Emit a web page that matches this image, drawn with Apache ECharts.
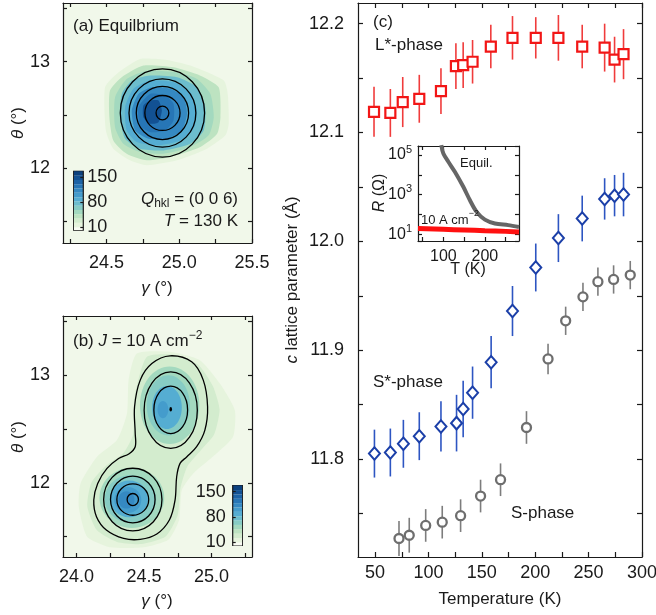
<!DOCTYPE html>
<html>
<head>
<meta charset="utf-8">
<script src="https://cdn.jsdelivr.net/npm/echarts@6/dist/echarts.min.js"></script>
<style>
  html, body { margin: 0; padding: 0; background: #fff; }
  #main { width: 656px; height: 615px; }
</style>
</head>
<body>
<div id="main"></div>
<script>
const FONT = 'Liberation Sans, Arial, Helvetica, sans-serif';
const INK = '#1a1a1a';

// colour scale shared by both maps (counts)
const cbEdges = [0, 10, 22, 34, 46, 58, 70, 82, 94, 106, 118, 130, 142, 154, 168];
const cbColors = ['#f9fcf4', '#e6f4dd', '#d3ecce', '#bde3c1', '#a3d9bf', '#87ccc4', '#6cbdcd',
  '#55add2', '#449ccc', '#3589c2', '#2776b6', '#1c63a6', '#125193', '#0b417e'];
const cbLabels = [10, 80, 150];

// (a) equilibrium: filled levels (outer -> inner) and fitted contours [g, t, rg, rt]
const aLevels = [16, 40, 52, 72, 90, 112, 126, 146];
const aBands = [
  [[24.730, 13.025], [24.914, 13.016], [25.076, 12.963], [25.306, 12.823], [25.333, 12.698], [25.340, 12.418], [25.317, 12.309], [25.191, 12.184], [24.984, 12.075], [24.776, 12.028], [24.661, 12.075], [24.546, 12.184], [24.495, 12.355], [24.489, 12.760], [24.569, 12.885]],
  [[24.753, 12.963], [24.961, 12.947], [25.145, 12.869], [25.271, 12.760], [25.283, 12.480], [25.260, 12.324], [25.145, 12.200], [24.937, 12.106], [24.776, 12.075], [24.638, 12.137], [24.546, 12.262], [24.519, 12.480], [24.523, 12.729], [24.604, 12.854]],
  [[24.776, 12.916], [24.984, 12.900], [25.122, 12.838], [25.214, 12.698], [25.237, 12.480], [25.202, 12.309], [25.076, 12.200], [24.891, 12.137], [24.730, 12.153], [24.615, 12.231], [24.558, 12.386], [24.558, 12.667], [24.638, 12.838]],
  [[24.788, 12.869], [24.984, 12.854], [25.122, 12.760], [25.179, 12.573], [25.168, 12.355], [25.076, 12.231], [24.891, 12.168], [24.730, 12.184], [24.627, 12.278], [24.592, 12.480], [24.604, 12.698], [24.673, 12.823]],
  [[24.799, 12.823], [24.961, 12.807], [25.076, 12.714], [25.122, 12.542], [25.099, 12.371], [25.007, 12.262], [24.845, 12.215], [24.707, 12.246], [24.638, 12.355], [24.627, 12.573], [24.684, 12.745]],
  [[24.811, 12.760], [24.937, 12.745], [25.030, 12.667], [25.053, 12.511], [25.018, 12.355], [24.914, 12.277], [24.788, 12.277], [24.696, 12.355], [24.673, 12.542], [24.719, 12.698]],
  [[24.799, 12.698], [24.903, 12.682], [24.960, 12.605], [24.960, 12.449], [24.903, 12.355], [24.799, 12.340], [24.730, 12.402], [24.719, 12.573]],
  [[24.799, 12.636], [24.857, 12.636], [24.880, 12.542], [24.857, 12.433], [24.799, 12.418], [24.753, 12.480], [24.753, 12.589]]
];
const aRings = [
  [24.884, 12.519, 0.044, 0.065], [24.884, 12.519, 0.121, 0.164], [24.884, 12.519, 0.180, 0.249],
  [24.884, 12.519, 0.230, 0.320], [24.884, 12.519, 0.290, 0.413]
];

// (b) J = 10 A/cm2: outer levels, lobe levels [g, t, rg, rt], contours
const bLevels = [16, 28];
const bBands = [
  [[24.447, 13.201], [24.693, 13.217], [24.914, 13.139], [25.062, 12.923], [25.173, 12.675], [25.160, 12.428], [25.037, 12.273], [24.865, 12.087], [24.780, 11.932], [24.760, 11.654], [24.680, 11.470], [24.497, 11.400], [24.251, 11.400], [24.079, 11.499], [24.017, 11.777], [24.030, 11.994], [24.152, 12.242], [24.300, 12.397], [24.374, 12.644], [24.386, 12.954]],
  [[24.52, 13.17], [24.72, 13.19], [24.90, 13.10], [25.01, 12.90], [25.06, 12.68], [25.02, 12.45], [24.92, 12.30], [24.82, 12.15], [24.77, 11.95], [24.75, 11.70], [24.66, 11.50], [24.48, 11.43], [24.30, 11.45], [24.15, 11.56], [24.08, 11.78], [24.11, 12.00], [24.22, 12.16], [24.35, 12.28], [24.42, 12.45], [24.43, 12.80]]
];
const bLobeLevels = [52, 64, 84, 98, 52, 64, 84, 98, 112];
const bLobes = [
  [24.69, 12.72, 0.22, 0.36], [24.68, 12.72, 0.16, 0.28], [24.67, 12.70, 0.11, 0.20], [24.64, 12.68, 0.04, 0.08],
  [24.41, 11.86, 0.24, 0.28], [24.40, 11.85, 0.19, 0.22], [24.39, 11.85, 0.14, 0.17], [24.38, 11.84, 0.10, 0.12],
  [24.37, 11.84, 0.06, 0.08]
];
const bRings = [
  [24.698, 12.677, 0.125, 0.221], [24.698, 12.675, 0.197, 0.356],
  [24.417, 11.844, 0.042, 0.056], [24.417, 11.844, 0.118, 0.146], [24.417, 11.844, 0.165, 0.217], [24.417, 11.844, 0.216, 0.291]
];
const bPeanut = [
  [24.693, 13.180], [24.853, 13.124], [24.939, 12.954], [24.971, 12.706], [24.951, 12.489], [24.890, 12.335],
  [24.816, 12.240], [24.767, 12.180], [24.742, 12.056], [24.730, 11.839], [24.688, 11.654], [24.595, 11.524],
  [24.472, 11.474], [24.349, 11.483], [24.221, 11.561], [24.148, 11.685], [24.128, 11.839], [24.157, 11.994],
  [24.226, 12.133], [24.312, 12.226], [24.390, 12.270], [24.435, 12.335], [24.435, 12.458], [24.430, 12.706],
  [24.472, 12.954], [24.558, 13.108]
];
const bDot = [[24.698, 12.684]];

// (c) c lattice parameter vs temperature
const lT = [49, 64.3, 75.9, 91.4, 111.7, 125.7, 132.5, 141.3, 158.4, 178.7, 200.5, 221.7, 244, 265, 274.3, 282.7];
const lC = [12.119, 12.118, 12.128, 12.131, 12.138, 12.161, 12.162, 12.165, 12.179, 12.187, 12.187, 12.187, 12.179, 12.178, 12.167, 12.172];
const lErr = [0.023, 0.022, 0.023, 0.022, 0.021, 0.021, 0.021, 0.020, 0.020, 0.020, 0.019, 0.021, 0.020, 0.022, 0.021, 0.023];
const ssT = [49.4, 64.3, 76.5, 91.4, 111.7, 126.3, 132.5, 141.3, 158.7, 178.7, 200.5, 221.7, 244, 265, 274.3, 282.7];
const ssC = [11.805, 11.806, 11.814, 11.821, 11.830, 11.833, 11.846, 11.861, 11.889, 11.936, 11.976, 12.003, 12.021, 12.039, 12.042, 12.043];
const ssErr = [0.022, 0.022, 0.022, 0.022, 0.023, 0.026, 0.026, 0.024, 0.024, 0.023, 0.022, 0.022, 0.021, 0.019, 0.019, 0.020];
const sT = [72.4, 82, 97.4, 112.9, 130.1, 148.8, 167.5, 191.8, 212, 228.5, 244.7, 258.7, 273.4, 289];
const sC = [11.727, 11.730, 11.739, 11.742, 11.748, 11.766, 11.781, 11.829, 11.892, 11.927, 11.949, 11.963, 11.965, 11.969];
const sErr = [0.016, 0.016, 0.015, 0.015, 0.015, 0.015, 0.015, 0.015, 0.014, 0.013, 0.013, 0.013, 0.013, 0.013];

// inset: resistance
const equilT = [95, 100, 112, 128, 148, 164, 180, 200, 224, 256, 282];
const equilR = [3.2e5, 1.2e5, 4.6e4, 1.4e4, 2.5e3, 520, 135, 55, 35, 29, 23.5];
const currT = [39, 100, 150, 200, 250, 282];
const currR = [19.5, 17.8, 16.5, 15.2, 14.0, 13.1];

const chart = echarts.init(document.getElementById('main'));

function levelColor(v) {
  for (let k = 0; k < cbColors.length; k++) {
    if (v < cbEdges[k + 1]) return cbColors[k];
  }
  return cbColors[cbColors.length - 1];
}

function axis(grid, pos, min, max, ticks, labels, o) {
  o = o || {};
  return {
    type: o.type || 'value', gridIndex: grid, position: pos, min: min, max: max, z: 10,
    axisLine: {show: o.line !== false, onZero: false, lineStyle: {color: INK, width: 1.2}},
    axisTick: {show: o.tick !== false, inside: true, length: o.len || 4, customValues: ticks, lineStyle: {color: INK, width: 1.2}},
    axisLabel: labels || o.fmt ? {
      show: true, customValues: labels || undefined, formatter: o.fmt, margin: o.margin,
      color: INK, fontFamily: FONT, fontSize: o.size || 18, lineHeight: 22,
      rich: {sup: {fontSize: 11, fontFamily: FONT, color: INK, verticalAlign: 'top', lineHeight: 9}}
    } : {show: false},
    splitLine: {show: false}
  };
}

const f1 = v => v.toFixed(1);
const f0 = v => String(Math.round(v));
const logFmt = v => {
  const e = Math.log10(v);
  const r = Math.round(e);
  if (Math.abs(e - r) > 1e-6 || r % 2 === 0) return '';
  return '10{sup|' + r + '}';
};

function polyFill(bands, levels) {
  return function (params, api) {
    const k = api.value(2);
    return {
      type: 'polygon',
      shape: {points: bands[k].map(p => api.coord(p)), smooth: 0.2},
      style: {fill: levelColor(levels[k])}
    };
  };
}

function ellipseItem(list, levels) {
  return function (params, api) {
    const r = list[api.value(2)];
    const c = api.coord([r[0], r[1]]);
    const s = api.size([r[2], r[3]]);
    const filled = !!levels;
    return {
      type: 'ellipse',
      shape: {cx: c[0], cy: c[1], rx: s[0], ry: s[1]},
      style: filled ? {fill: levelColor(levels[api.value(2)])} : {fill: 'none', stroke: '#000', lineWidth: 1.3}
    };
  };
}

function cbItem(params, api) {
  const k = api.value(2);
  const p0 = api.coord([0, cbEdges[k]]);
  const p1 = api.coord([1, cbEdges[k + 1]]);
  return {type: 'rect', shape: {x: p0[0], y: p1[1], width: p1[0] - p0[0], height: p0[1] - p1[1]}, style: {fill: cbColors[k]}};
}

function cbFrame(params, api) {
  const p0 = api.coord([0, cbEdges[0]]);
  const p1 = api.coord([1, cbEdges[cbEdges.length - 1]]);
  return {type: 'rect', shape: {x: p0[0], y: p1[1], width: p1[0] - p0[0], height: p0[1] - p1[1]}, style: {fill: 'none', stroke: INK, lineWidth: 1.2}};
}

function errItem(params, api) {
  const t = api.value(0), c = api.value(1), e = api.value(2);
  const a = api.coord([t, c - e]), b = api.coord([t, c + e]);
  return {type: 'line', shape: {x1: a[0], y1: a[1], x2: b[0], y2: b[1]}, style: {stroke: api.visual('color'), lineWidth: 1.6}};
}

const idx = arr => arr.map((p, k) => [p[0][0], p[0][1], k]);

function custom(xi, yi, data, render, z) {
  return {type: 'custom', xAxisIndex: xi, yAxisIndex: yi, clip: true, silent: true, z: z || 2,
    dimensions: ['x', 'y', 'k'], encode: {x: 0, y: 1}, data: data, renderItem: render};
}

const series = [
  // (a)
  custom(0, 0, idx(aBands), polyFill(aBands, aLevels), 1),
  custom(0, 0, aRings.map((r, k) => [r[0], r[1], k]), ellipseItem(aRings), 3),
  custom(2, 2, cbColors.map((c, k) => [0.5, (cbEdges[k] + cbEdges[k + 1]) / 2, k]), cbItem, 2),
  custom(2, 2, [[0.5, 80, 0]], cbFrame, 3),
  // (b)
  custom(3, 3, idx(bBands), polyFill(bBands, bLevels), 1),
  custom(3, 3, bLobes.map((r, k) => [r[0], r[1], k]), ellipseItem(bLobes, bLobeLevels), 2),
  custom(3, 3, [[bPeanut[0][0], bPeanut[0][1], 0]], function (params, api) {
    return {type: 'polygon', shape: {points: bPeanut.map(p => api.coord(p)), smooth: 0.35},
      style: {fill: 'none', stroke: '#000', lineWidth: 1.3}};
  }, 3),
  custom(3, 3, bRings.map((r, k) => [r[0], r[1], k]), ellipseItem(bRings), 3),
  {type: 'scatter', xAxisIndex: 3, yAxisIndex: 3, data: bDot, symbol: 'circle', symbolSize: [2.6, 4.5],
    itemStyle: {color: '#000', opacity: 1}, z: 4, silent: true},
  custom(5, 5, cbColors.map((c, k) => [0.5, (cbEdges[k] + cbEdges[k + 1]) / 2, k]), cbItem, 2),
  custom(5, 5, [[0.5, 80, 0]], cbFrame, 3),
  // (c) error bars then markers
  Object.assign(custom(6, 6, lT.map((t, k) => [t, lC[k], lErr[k]]), errItem, 2), {itemStyle: {color: '#f03c3c'}}),
  Object.assign(custom(6, 6, ssT.map((t, k) => [t, ssC[k], ssErr[k]]), errItem, 2), {itemStyle: {color: '#2d55c2'}}),
  Object.assign(custom(6, 6, sT.map((t, k) => [t, sC[k], sErr[k]]), errItem, 2), {itemStyle: {color: '#7d7d7d'}}),
  {type: 'scatter', xAxisIndex: 6, yAxisIndex: 6, data: lT.map((t, k) => [t, lC[k]]), symbol: 'rect', symbolSize: 10,
    itemStyle: {color: '#fff', borderColor: '#f21616', borderWidth: 2.2, opacity: 1}, z: 4, silent: true},
  {type: 'scatter', xAxisIndex: 6, yAxisIndex: 6, data: ssT.map((t, k) => [t, ssC[k]]), symbol: 'diamond', symbolSize: [11, 12.5],
    itemStyle: {color: '#fff', borderColor: '#1b3fa8', borderWidth: 2, opacity: 1}, z: 4, silent: true},
  {type: 'scatter', xAxisIndex: 6, yAxisIndex: 6, data: sT.map((t, k) => [t, sC[k]]), symbol: 'circle', symbolSize: 9,
    itemStyle: {color: '#fff', borderColor: '#6e6e6e', borderWidth: 2.3, opacity: 1}, z: 4, silent: true},
  // inset
  {type: 'line', xAxisIndex: 8, yAxisIndex: 8, data: equilT.map((t, k) => [t, equilR[k]]), smooth: 0.3, symbol: 'none',
    lineStyle: {color: '#666', width: 4}, z: 12, silent: true},
  {type: 'line', xAxisIndex: 8, yAxisIndex: 8, data: currT.map((t, k) => [t, currR[k]]), smooth: true, symbol: 'none',
    lineStyle: {color: '#ff1010', width: 5}, z: 12, silent: true}
];

function text(str, x, y, o) {
  o = o || {};
  const size = o.size || 17;
  return {
    type: 'text', x: x, y: y, rotation: o.rot || 0, silent: true, z: 20,
    style: {
      text: str, fill: INK, fontSize: size, fontFamily: FONT, lineHeight: 22,
      align: o.align || 'left', verticalAlign: 'middle',
      textAlign: o.align || 'left', textVerticalAlign: 'middle',
      rich: {
        i: {fontSize: size, fontFamily: FONT, fontStyle: 'italic', fill: INK},
        sub: {fontSize: Math.round(size * 0.7), fontFamily: FONT, fill: INK, verticalAlign: 'bottom', lineHeight: 10},
        sup: {fontSize: Math.round(size * 0.7), fontFamily: FONT, fill: INK, verticalAlign: 'top', lineHeight: 10}
      }
    }
  };
}

const graphics = [
  text('(a) Equilbrium', 73, 26),
  text('{i|Q}{sub|hkl} = (0 0 6)', 238, 199, {align: 'right'}),
  text('{i|T} = 130 K', 238, 221, {align: 'right'}),
  text('(b) {i|J} = 10 A cm{sup|\u22122}', 73, 341),
  text('(c)', 373, 22),
  text('L*-phase', 375, 45),
  text('S*-phase', 373, 382),
  text('S-phase', 511, 513),
  text('Equil.', 460, 163, {size: 13}),
  text('10 A cm{sup|\u22122}', 421, 220, {size: 13}),
  text('{i|\u03b8} (\u00b0)', 18, 123, {align: 'center', rot: Math.PI / 2}),
  text('{i|\u03b8} (\u00b0)', 18, 437, {align: 'center', rot: Math.PI / 2}),
  text('{i|\u03b3} (\u00b0)', 157, 288, {align: 'center'}),
  text('{i|\u03b3} (\u00b0)', 157, 601, {align: 'center'}),
  text('{i|c} lattice parameter (\u00c5)', 292, 280, {align: 'center', rot: Math.PI / 2}),
  text('Temperature (K)', 500, 599, {align: 'center'}),
  text('T (K)', 468, 270, {align: 'center', size: 16}),
  text('{i|R} (\u03a9)', 380, 193, {align: 'center', rot: Math.PI / 2, size: 16})
];

const gridBase = {outerBoundsMode: 'none', containLabel: false};
chart.setOption({
  animation: false,
  backgroundColor: '#fff',
  grid: [
    Object.assign({left: 63, top: 3, width: 189, height: 240, show: true, backgroundColor: '#f1f8ea', borderWidth: 0}, gridBase),
    Object.assign({left: 73.3, top: 170.7, width: 10, height: 60}, gridBase),
    Object.assign({left: 63, top: 316, width: 189, height: 241, show: true, backgroundColor: '#f1f8ea', borderWidth: 0}, gridBase),
    Object.assign({left: 232.7, top: 485, width: 10, height: 61}, gridBase),
    Object.assign({left: 358, top: 3, width: 284, height: 554}, gridBase),
    Object.assign({left: 418, top: 146, width: 101, height: 95, show: true, backgroundColor: '#fff', borderWidth: 0, z: 5}, gridBase)
  ],
  xAxis: [
    axis(0, 'bottom', 24.2, 25.5, [24.25, 24.5, 24.75, 25, 25.25, 25.5], [24.5, 25, 25.5], {fmt: f1, margin: 9}),
    axis(0, 'top', 24.2, 25.5, [24.25, 24.5, 24.75, 25, 25.25, 25.5], null),
    axis(1, 'bottom', 0, 1, [], null, {line: false, tick: false}),
    axis(2, 'bottom', 23.9, 25.3, [24, 24.25, 24.5, 24.75, 25, 25.25], [24, 24.5, 25], {fmt: f1, margin: 9}),
    axis(2, 'top', 23.9, 25.3, [24, 24.25, 24.5, 24.75, 25, 25.25], null),
    axis(3, 'bottom', 0, 1, [], null, {line: false, tick: false}),
    axis(4, 'bottom', 34, 300, [50, 75, 100, 125, 150, 175, 200, 225, 250, 275, 300], [50, 100, 150, 200, 250, 300], {fmt: f0, margin: 5, len: 5}),
    axis(4, 'top', 34, 300, [50, 75, 100, 125, 150, 175, 200, 225, 250, 275, 300], null, {len: 5}),
    axis(5, 'bottom', 39, 282, [50, 100, 150, 200, 250], [100, 200], {fmt: f0, margin: 5, size: 16}),
    axis(5, 'top', 39, 282, [50, 100, 150, 200, 250], null)
  ],
  yAxis: [
    axis(0, 'left', 11.3, 13.55, [11.5, 12, 12.5, 13, 13.5], [12, 13], {fmt: f0, margin: 13}),
    axis(0, 'right', 11.3, 13.55, [11.5, 12, 12.5, 13, 13.5], null),
    axis(1, 'right', 0, 168, cbLabels, cbLabels, {fmt: f0, margin: 4, len: 3, line: false}),
    axis(2, 'left', 11.31, 13.55, [11.5, 12, 12.5, 13, 13.5], [12, 13], {fmt: f0, margin: 13}),
    axis(2, 'right', 11.31, 13.55, [11.5, 12, 12.5, 13, 13.5], null),
    axis(3, 'left', 0, 168, cbLabels, cbLabels, {fmt: f0, margin: 7, len: 3, line: false}),
    axis(4, 'left', 11.710, 12.219, [11.75, 11.8, 11.85, 11.9, 11.95, 12, 12.05, 12.1, 12.15, 12.2], [11.8, 11.9, 12, 12.1, 12.2], {fmt: f1, margin: 14, len: 5}),
    axis(4, 'right', 11.710, 12.219, [11.75, 11.8, 11.85, 11.9, 11.95, 12, 12.05, 12.1, 12.15, 12.2], null, {len: 5}),
    axis(5, 'left', 4.57, 2.88e5, undefined, null, {type: 'log', fmt: logFmt, margin: 6, size: 16}),
    axis(5, 'right', 4.57, 2.88e5, undefined, null, {type: 'log'})
  ],
  series: series,
  graphic: graphics
});
</script>
</body>
</html>
